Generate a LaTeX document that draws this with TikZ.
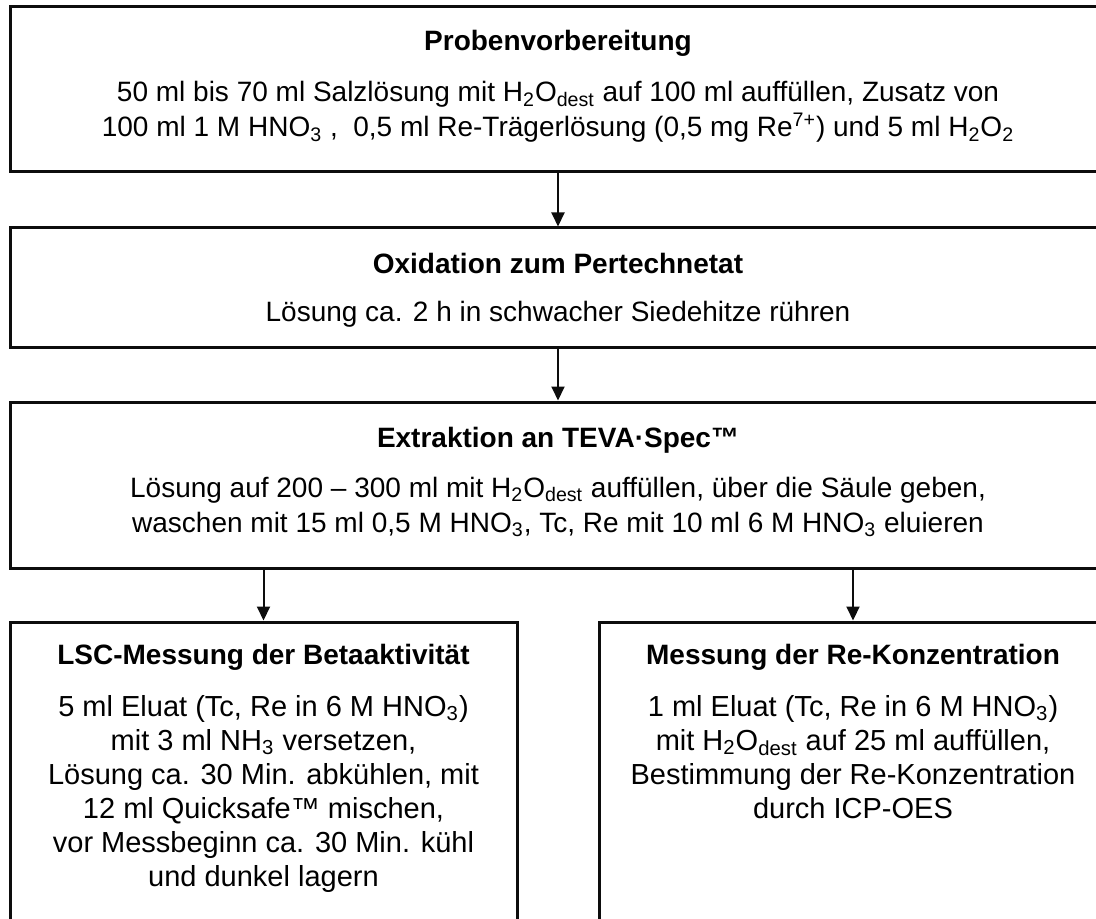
\documentclass[tikz,border=0pt]{standalone}
\usepackage{fontspec}
\setmainfont{Liberation Sans}
\usetikzlibrary{arrows.meta}
\definecolor{boxline}{gray}{0.05}
\newcommand{\sub}[1]{\textsubscript{#1}}
\tikzset{
  stepbox/.style={draw=boxline,line width=1.5pt,rectangle,inner sep=0pt},
  ttl/.style={font=\fontsize{14}{17.5}\selectfont\bfseries,inner sep=0pt},
  txt/.style={font=\fontsize{14}{17.5}\selectfont,align=center,inner sep=0pt},
  txtlow/.style={font=\fontsize{14.5}{17}\selectfont,align=center,inner sep=0pt},
  flow/.style={draw=boxline,line width=1pt,-{Triangle[width=6.5pt,length=7pt]}},
}
\begin{document}
\begin{tikzpicture}[x=0.5pt,y=0.5pt]
  \useasboundingbox (0,0) rectangle (1096,-919);
  \clip (0,0) rectangle (1096,-919);
  % boxes
  \node[stepbox,minimum width=548pt,minimum height=82.5pt] (prep) at (558,-89.5) {};
  \node[stepbox,minimum width=548pt,minimum height=59.5pt] (oxid) at (558,-287.5) {};
  \node[stepbox,minimum width=548pt,minimum height=83pt] (extr) at (558,-485) {};
  \node[stepbox,minimum width=253.5pt,minimum height=169pt] (lsc) at (263.5,-791) {};
  \node[stepbox,minimum width=254pt,minimum height=169pt] (icp) at (853,-791) {};
  % texts
  \node[ttl] (prepT) at (558,-43) {Probenvorbereitung};
  \node[txt] (prepB) at (558,-112) {50 ml bis 70 ml Salzlösung mit H\sub{2}O\sub{dest} auf 100 ml auffüllen, Zusatz von\\
    100 ml 1 M HNO\sub{3} ,\ \ 0,5 ml Re-Trägerlösung (0,5 mg Re\textsuperscript{7+}) und 5 ml H\sub{2}O\sub{2}};
  \node[ttl] (oxidT) at (558,-263) {Oxidation zum Pertechnetat};
  \node[txt] (oxidB) at (558,-314) {Lösung ca. 2 h in schwacher Siedehitze rühren};
  \node[ttl] (extrT) at (558,-440) {Extraktion an TEVA·Spec™};
  \node[txt] (extrB) at (558,-507) {Lösung auf 200 – 300 ml mit H\sub{2}O\sub{dest} auffüllen, über die Säule geben,\\
    waschen mit 15 ml 0,5 M HNO\sub{3}, Tc, Re mit 10 ml 6 M HNO\sub{3} eluieren};
  \node[ttl] (lscT) at (263.5,-657) {LSC-Messung der Betaaktivität};
  \node[txtlow,anchor=north] (lscB) at (263.5,-695) {5 ml Eluat (Tc, Re in 6 M HNO\sub{3})\\
    mit 3 ml NH\sub{3} versetzen,\\ Lösung ca. 30 Min. abkühlen, mit\\ 12 ml Quicksafe™ mischen,\\
    vor Messbeginn ca. 30 Min. kühl\\ und dunkel lagern};
  \node[ttl] (icpT) at (853,-657) {Messung der Re-Konzentration};
  \node[txtlow,anchor=north] (icpB) at (853,-695) {1 ml Eluat (Tc, Re in 6 M HNO\sub{3})\\
    mit H\sub{2}O\sub{dest} auf 25 ml auffüllen,\\ Bestimmung der Re-Konzentration\\ durch ICP-OES};
  % arrows
  \draw[flow] (prep) -- (oxid);
  \draw[flow] (oxid) -- (extr);
  \draw[flow] (extr.south -| lsc.north) -- (lsc.north);
  \draw[flow] (extr.south -| icp.north) -- (icp.north);
\end{tikzpicture}
\end{document}
